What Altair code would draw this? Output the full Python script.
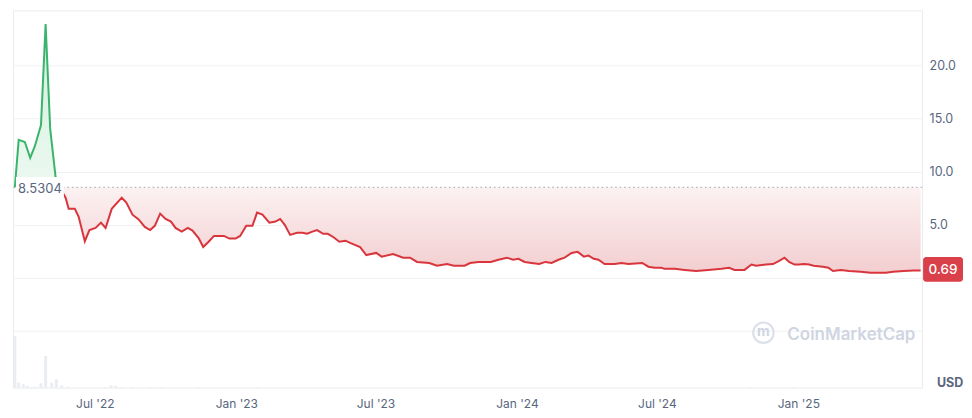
import altair as alt
import pandas as pd

BASELINE = 8.5304
LAST_PRICE = 0.69

price_dates = [
    "2022-03-19", "2022-03-24", "2022-04-01", "2022-04-08", "2022-04-14", "2022-04-22",
    "2022-04-28", "2022-05-04", "2022-05-11", "2022-05-16",
    "2022-05-24", "2022-05-28", "2022-06-05", "2022-06-10", "2022-06-18", "2022-06-24",
    "2022-07-02", "2022-07-09", "2022-07-15", "2022-07-23", "2022-08-05", "2022-08-11",
    "2022-08-19", "2022-08-27", "2022-09-04", "2022-09-11", "2022-09-17", "2022-09-24",
    "2022-10-01", "2022-10-08", "2022-10-14", "2022-10-22", "2022-10-30", "2022-11-05",
    "2022-11-13", "2022-11-19", "2022-11-26", "2022-12-03", "2022-12-10", "2022-12-16",
    "2022-12-23", "2022-12-31", "2023-01-06", "2023-01-14", "2023-01-22", "2023-01-28",
    "2023-02-04", "2023-02-13", "2023-02-21", "2023-02-27", "2023-03-05", "2023-03-12",
    "2023-03-21", "2023-03-28", "2023-04-03", "2023-04-10", "2023-04-16", "2023-04-24",
    "2023-04-30", "2023-05-07", "2023-05-15", "2023-05-23", "2023-05-29", "2023-06-11",
    "2023-06-19", "2023-07-02", "2023-07-09", "2023-07-24", "2023-08-06", "2023-08-15",
    "2023-08-24", "2023-09-09", "2023-09-19", "2023-10-02", "2023-10-11", "2023-10-25",
    "2023-11-01", "2023-11-12", "2023-11-28", "2023-12-08", "2023-12-19", "2023-12-27",
    "2024-01-03", "2024-01-11", "2024-01-20", "2024-01-30", "2024-02-07", "2024-02-15",
    "2024-02-24", "2024-03-03", "2024-03-12", "2024-03-20", "2024-03-28", "2024-04-03",
    "2024-04-10", "2024-04-16", "2024-04-24", "2024-05-07", "2024-05-16", "2024-05-25",
    "2024-06-12", "2024-06-20", "2024-06-28", "2024-07-07", "2024-07-11", "2024-07-24",
    "2024-08-06", "2024-08-21", "2024-09-06", "2024-09-23", "2024-10-03", "2024-10-10",
    "2024-10-23", "2024-11-01", "2024-11-07", "2024-11-20", "2024-11-29", "2024-12-07",
    "2024-12-14", "2024-12-20", "2024-12-27", "2025-01-02", "2025-01-08", "2025-01-15",
    "2025-01-21", "2025-02-02", "2025-02-09", "2025-02-15", "2025-02-25", "2025-03-08",
    "2025-03-23", "2025-04-05", "2025-04-16", "2025-04-25", "2025-05-04", "2025-05-18",
    "2025-05-31", "2025-06-09",
]
price_values = [
    8.53, 13.0, 12.8, 11.3, 12.4, 14.4,
    23.9, 14.0, 9.5, 8.5304,
    7.55, 6.5, 6.5, 5.75, 3.45, 4.5,
    4.7, 5.2, 4.7, 6.5, 7.55, 7.1,
    5.95, 5.5, 4.8, 4.5, 4.9, 6.05,
    5.55, 5.3, 4.7, 4.35, 4.7, 4.45,
    3.75, 2.9, 3.4, 3.95, 3.95, 3.95,
    3.7, 3.7, 3.95, 4.9, 4.9, 6.15,
    5.95, 5.2, 5.3, 5.55, 5.0, 4.05,
    4.25, 4.25, 4.15, 4.35, 4.5, 4.15,
    4.15, 3.85, 3.4, 3.5, 3.3, 2.9,
    2.15, 2.35, 2.0, 2.25, 1.9, 1.9,
    1.5, 1.4, 1.15, 1.3, 1.15, 1.15,
    1.4, 1.5, 1.5, 1.7, 1.9, 1.7,
    1.8, 1.5, 1.4, 1.3, 1.5, 1.4,
    1.7, 1.9, 2.35, 2.45, 2.0, 2.1,
    1.8, 1.7, 1.3, 1.3, 1.4, 1.3,
    1.4, 1.05, 0.95, 0.95, 0.85, 0.85,
    0.75, 0.65, 0.75, 0.85, 0.95, 0.75,
    0.75, 1.25, 1.15, 1.25, 1.3, 1.6,
    1.9, 1.5, 1.25, 1.25, 1.3, 1.25,
    1.15, 1.05, 0.95, 0.65, 0.75, 0.65,
    0.57, 0.47, 0.47, 0.47, 0.57, 0.65,
    0.69, 0.69,
]
CROSS_DATE = "2022-05-16"

vol_dates = [
    "2022-03-19", "2022-03-24", "2022-03-30", "2022-04-04", "2022-04-09", "2022-04-14",
    "2022-04-22", "2022-04-28", "2022-05-06", "2022-05-12", "2022-05-19", "2022-05-27",
    "2022-07-15", "2022-07-22", "2022-07-28", "2022-08-03", "2022-08-19", "2022-09-11",
    "2022-09-24", "2022-11-12", "2023-01-29", "2024-10-31", "2024-12-27",
]
vol_values = [
    51.7, 5.0, 3.3, 1.7, 0.7, 1.0,
    4.3, 31.7, 5.0, 8.3, 2.3, 1.0,
    0.7, 2.3, 1.7, 0.7, 0.7, 0.7,
    0.7, 0.7, 0.7, 0.7, 0.7,
]

y_ticks = [-5, 0, 5, 10, 15, 20]
x_tick_dates = [(2022, 7), (2023, 1), (2023, 7), (2024, 1), (2024, 7), (2025, 1)]

GREEN = "#3ab46c"
RED = "#d9353d"
TEXT = "#58667e"
GRID = "#eff1f4"

df = pd.DataFrame({"date": price_dates, "price": price_values})
df["base"] = BASELINE
ci = price_dates.index(CROSS_DATE)
green_df = df.iloc[: ci + 1]
red_df = df.iloc[ci:]
vol_df = pd.DataFrame({"date": vol_dates, "vol": vol_values})

x_scale = alt.Scale(
    domain=[
        alt.DateTime(year=2022, month=3, date=16, hours=14, utc=True),
        alt.DateTime(year=2025, month=6, date=10, hours=22, utc=True),
    ],
    padding=0,
    nice=False,
)
x_axis = alt.Axis(
    values=[alt.DateTime(year=y, month=m, date=1, utc=True) for y, m in x_tick_dates],
    labelExpr="utcFormat(datum.value, \"%b '%y\")",
    labelColor=TEXT,
    labelFontSize=12,
    labelPadding=11,
    ticks=False,
    domain=False,
    grid=False,
    title=None,
)
X = alt.X("date:T", scale=x_scale, axis=x_axis)

y_scale = alt.Scale(domain=[-10.34, 25.19], nice=False, zero=False)
y_axis = alt.Axis(
    orient="right",
    values=y_ticks,
    labelExpr="datum.value >= 5 ? format(datum.value, '.1f') : ''",
    labelColor=TEXT,
    labelFontSize=12.5,
    labelAlign="left",
    labelPadding=7,
    ticks=False,
    domain=False,
    grid=True,
    gridColor=GRID,
    title=None,
)
Yp = alt.Y("price:Q", scale=y_scale, axis=y_axis)

vol = alt.Chart(vol_df).mark_bar(color="#e9ecf1", size=3).encode(
    x=X,
    y=alt.Y("vol:Q", scale=alt.Scale(domain=[0, 378], nice=False), axis=None),
)

green_grad = alt.Gradient(
    gradient="linear",
    stops=[alt.GradientStop(color="#cdeed8", offset=0), alt.GradientStop(color="#eaf8ef", offset=1)],
    x1=0, x2=0, y1=0, y2=1,
)
red_grad = alt.Gradient(
    gradient="linear",
    stops=[alt.GradientStop(color="#fcf0f0", offset=0), alt.GradientStop(color="#f1c8ca", offset=1)],
    x1=0, x2=0, y1=0, y2=1,
)

green_area = alt.Chart(green_df).mark_area(color=green_grad, opacity=0.9).encode(
    x=X, y=Yp, y2="base:Q"
)
red_area = alt.Chart(red_df).mark_area(color=red_grad, opacity=0.9).encode(
    x=X, y=Yp, y2="base:Q"
)
rule = alt.Chart(pd.DataFrame({"price": [BASELINE]})).mark_rule(
    color="#9aa1b3", strokeDash=[1.5, 3], strokeWidth=1
).encode(y=Yp)
green_line = alt.Chart(green_df).mark_line(color=GREEN, strokeWidth=2).encode(x=X, y=Yp)
red_line = alt.Chart(red_df).mark_line(color=RED, strokeWidth=2).encode(x=X, y=Yp)

one = pd.DataFrame({"k": [0]})
label_box = alt.Chart(one).mark_rect(fill="white").encode(
    x=alt.value(3), x2=alt.value(51), y=alt.value(167), y2=alt.value(188)
)
label_text = alt.Chart(pd.DataFrame({"t": [f"{BASELINE:.4f}"]})).mark_text(
    color=TEXT, fontSize=13, align="center", baseline="middle"
).encode(x=alt.value(27), y=alt.value(179), text="t:N")

badge = alt.Chart(one).mark_rect(fill="#d9404a", cornerRadius=3).encode(
    x=alt.value(912), x2=alt.value(952), y=alt.value(247), y2=alt.value(272)
)
badge_text = alt.Chart(pd.DataFrame({"t": [f"{LAST_PRICE:.2f}"]})).mark_text(
    color="white", fontSize=13.5, fontWeight=500, align="center", baseline="middle"
).encode(x=alt.value(932), y=alt.value(260), text="t:N")

usd = alt.Chart(pd.DataFrame({"t": ["USD"]})).mark_text(
    color=TEXT, fontSize=12.5, fontWeight="bold", align="center", baseline="middle"
).encode(x=alt.value(939), y=alt.value(373), text="t:N")

logo = alt.Chart(one).mark_point(
    shape="circle", size=420, filled=False, color="#cfd5e1", strokeWidth=2.2
).encode(x=alt.value(752), y=alt.value(323))
logo_m = alt.Chart(pd.DataFrame({"t": ["m"]})).mark_text(
    color="#cfd5e1", fontSize=14, fontWeight="bold", align="center", baseline="middle"
).encode(x=alt.value(752), y=alt.value(322), text="t:N")
wm = alt.Chart(pd.DataFrame({"t": ["CoinMarketCap"]})).mark_text(
    color="#cfd5e1", fontSize=17, fontWeight=600, align="left", baseline="middle"
).encode(x=alt.value(776), y=alt.value(325), text="t:N")

price = alt.layer(
    green_area, red_area, rule, green_line, red_line,
    label_box, label_text, badge, badge_text, usd, logo, logo_m, wm,
)

chart = (
    alt.layer(vol, price)
    .resolve_scale(y="independent")
    .properties(
        width=911,
        height=378,
        padding={"left": 2, "top": 2, "right": 0, "bottom": 0},
    )
    .configure(font="Inter")
    .configure_view(stroke="#e9ebef", strokeWidth=1)
)

chart.save("out.html", embed_options={"renderer": "svg", "actions": False})
